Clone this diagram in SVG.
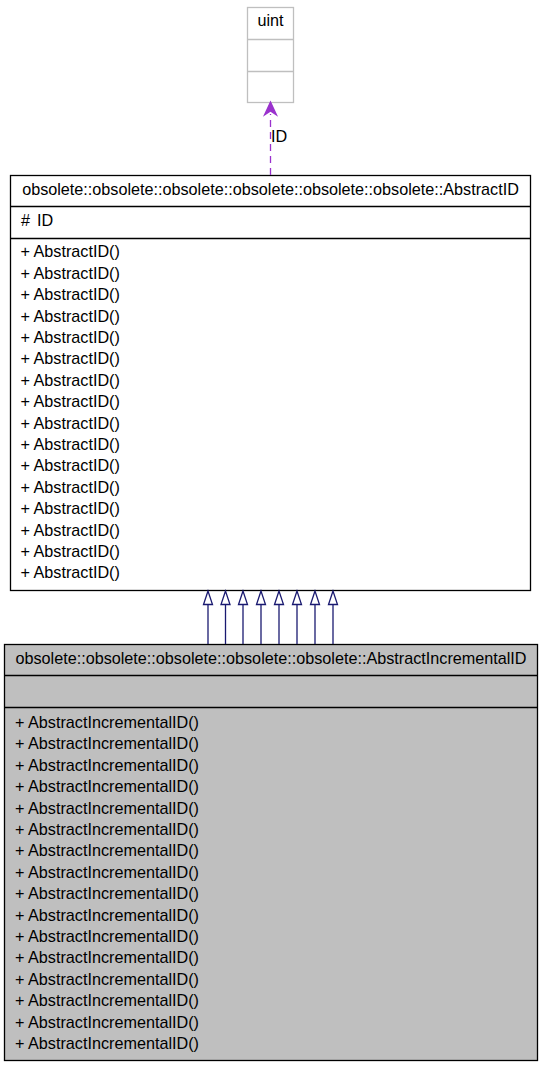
<svg xmlns="http://www.w3.org/2000/svg" width="541" height="1067" viewBox="0 0 541 1067">
<defs>
<style>
text{font-family:"Liberation Sans",Arial,sans-serif;font-size:16.2px;fill:#000}
.c{text-anchor:middle}
.box{stroke:#000;stroke-width:1.3}
.ln{stroke:#000;stroke-width:1.3}
.g{fill:#fff;stroke:#bfbfbf;stroke-width:1.3}
.inh{stroke:#191970;stroke-width:1.3;fill:none}
.inhh{stroke:#191970;stroke-width:1.3;fill:#fff}
</style>
</defs>
<g id="node-uint">
<rect class="g" x="247.5" y="7.5" width="46" height="95"/>
<line x1="247.5" y1="39.5" x2="293.5" y2="39.5" stroke="#bfbfbf" stroke-width="1.3"/>
<line x1="247.5" y1="71.5" x2="293.5" y2="71.5" stroke="#bfbfbf" stroke-width="1.3"/>
<text class="c" x="270.5" y="26">uint</text>
</g>
<g id="node-AbstractID">
<rect class="box" x="10.5" y="175.5" width="520" height="415" fill="#fff"/>
<line class="ln" x1="10.5" y1="206.5" x2="530.5" y2="206.5"/>
<line class="ln" x1="10.5" y1="238.5" x2="530.5" y2="238.5"/>
<text class="c" x="270.5" y="194.5">obsolete::obsolete::obsolete::obsolete::obsolete::obsolete::AbstractID</text>
<text x="21" y="225.7">#</text><text x="37" y="225.7">ID</text>
<text x="20.5" y="257.3">+ AbstractID()</text>
<text x="20.5" y="278.7">+ AbstractID()</text>
<text x="20.5" y="300.1">+ AbstractID()</text>
<text x="20.5" y="321.5">+ AbstractID()</text>
<text x="20.5" y="342.9">+ AbstractID()</text>
<text x="20.5" y="364.3">+ AbstractID()</text>
<text x="20.5" y="385.7">+ AbstractID()</text>
<text x="20.5" y="407.1">+ AbstractID()</text>
<text x="20.5" y="428.5">+ AbstractID()</text>
<text x="20.5" y="449.9">+ AbstractID()</text>
<text x="20.5" y="471.3">+ AbstractID()</text>
<text x="20.5" y="492.7">+ AbstractID()</text>
<text x="20.5" y="514.1">+ AbstractID()</text>
<text x="20.5" y="535.5">+ AbstractID()</text>
<text x="20.5" y="556.9">+ AbstractID()</text>
<text x="20.5" y="578.3">+ AbstractID()</text>
</g>
<g id="node-AbstractIncrementalID">
<rect class="box" x="4.5" y="644.5" width="533" height="416" fill="#bfbfbf"/>
<line class="ln" x1="4.5" y1="675.5" x2="537.5" y2="675.5"/>
<line class="ln" x1="4.5" y1="707.5" x2="537.5" y2="707.5"/>
<text class="c" x="271" y="663.5">obsolete::obsolete::obsolete::obsolete::obsolete::AbstractIncrementalID</text>
<text x="15" y="728">+ AbstractIncrementalID()</text>
<text x="15" y="749.4">+ AbstractIncrementalID()</text>
<text x="15" y="770.8">+ AbstractIncrementalID()</text>
<text x="15" y="792.2">+ AbstractIncrementalID()</text>
<text x="15" y="813.6">+ AbstractIncrementalID()</text>
<text x="15" y="835">+ AbstractIncrementalID()</text>
<text x="15" y="856.4">+ AbstractIncrementalID()</text>
<text x="15" y="877.8">+ AbstractIncrementalID()</text>
<text x="15" y="899.2">+ AbstractIncrementalID()</text>
<text x="15" y="920.6">+ AbstractIncrementalID()</text>
<text x="15" y="942">+ AbstractIncrementalID()</text>
<text x="15" y="963.4">+ AbstractIncrementalID()</text>
<text x="15" y="984.8">+ AbstractIncrementalID()</text>
<text x="15" y="1006.2">+ AbstractIncrementalID()</text>
<text x="15" y="1027.6">+ AbstractIncrementalID()</text>
<text x="15" y="1048.5">+ AbstractIncrementalID()</text>
</g>
<g id="connectors">
<line x1="270.5" y1="175" x2="270.5" y2="114" stroke="#9a32cd" stroke-width="1.3" stroke-dasharray="7,5"/>
<polygon points="270.5,102 264.5,115 270.5,111 276.5,115" fill="#9a32cd" stroke="#9a32cd" stroke-width="1.3"/>
<text x="271" y="142">ID</text>
<g>
<line class="inh" x1="208" y1="605" x2="208" y2="644"/>
<polygon class="inhh" points="208,591 203.5,604.5 212.5,604.5"/>
<line class="inh" x1="225.5" y1="605" x2="225.5" y2="644"/>
<polygon class="inhh" points="225.5,591 221,604.5 230,604.5"/>
<line class="inh" x1="243" y1="605" x2="243" y2="644"/>
<polygon class="inhh" points="243,591 238.5,604.5 247.5,604.5"/>
<line class="inh" x1="261" y1="605" x2="261" y2="644"/>
<polygon class="inhh" points="261,591 256.5,604.5 265.5,604.5"/>
<line class="inh" x1="279" y1="605" x2="279" y2="644"/>
<polygon class="inhh" points="279,591 274.5,604.5 283.5,604.5"/>
<line class="inh" x1="297" y1="605" x2="297" y2="644"/>
<polygon class="inhh" points="297,591 292.5,604.5 301.5,604.5"/>
<line class="inh" x1="315" y1="605" x2="315" y2="644"/>
<polygon class="inhh" points="315,591 310.5,604.5 319.5,604.5"/>
<line class="inh" x1="333" y1="605" x2="333" y2="644"/>
<polygon class="inhh" points="333,591 328.5,604.5 337.5,604.5"/>
</g>
</g>
</svg>
